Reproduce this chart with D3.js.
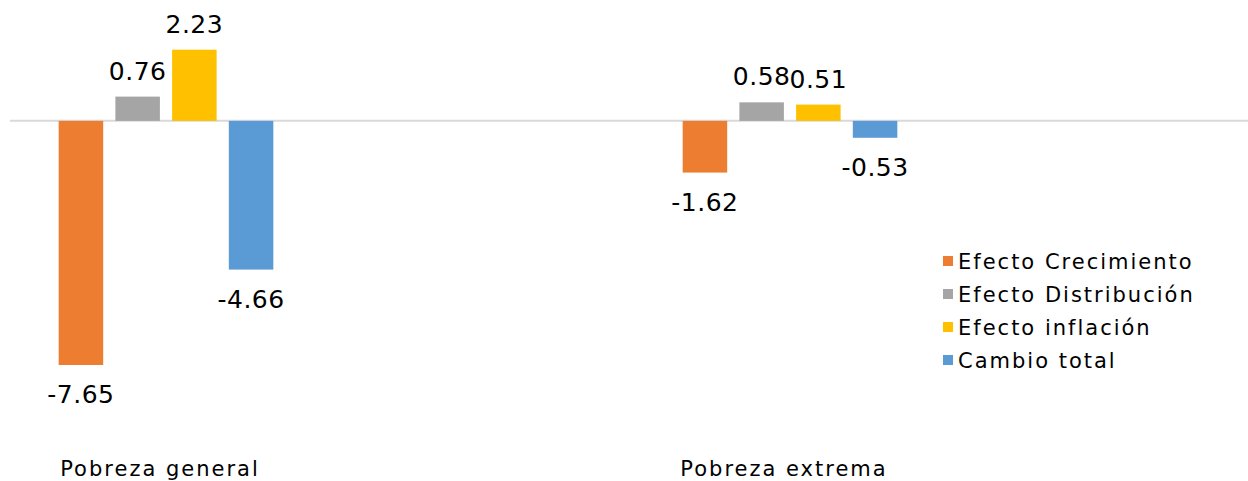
<!DOCTYPE html>
<html>
<head>
<meta charset="utf-8">
<script src="https://cdn.jsdelivr.net/npm/d3@7"></script>
<style>
  html, body { margin: 0; padding: 0; background: #fff; }
  svg { display: block; font-family: "DejaVu Sans", sans-serif; }
</style>
</head>
<body>
<svg id="chart" width="1248" height="481"></svg>
<script>
// 데이터
const categories = ["Pobreza general", "Pobreza extrema"];
const seriesNames = ["Efecto Crecimiento", "Efecto Distribución", "Efecto inflación", "Cambio total"];
const seriesColors = ["#ED7D31", "#A5A5A5", "#FFC000", "#5B9BD5"];
const crecimiento = [-7.65, -1.62];
const distribucion = [0.76, 0.58];
const inflacion = [2.23, 0.51];
const cambioTotal = [-4.66, -0.53];
const seriesValues = [crecimiento, distribucion, inflacion, cambioTotal];

const W = 1248, H = 481;
const svg = d3.select("#chart");

// 축 스케일
const x0 = d3.scaleBand().domain(categories).range([-146, 1102]).padding(0);
const x1 = d3.scaleBand().domain(seriesNames).range([0, 226]).paddingInner(0.215).paddingOuter(0.1);
const groupOffset = (x0.bandwidth() - 226) / 2;
const y = d3.scaleLinear().domain([-7.65, 2.23]).range([365, 49.7]);

// 0 기준선
svg.append("line")
  .attr("x1", 10).attr("x2", W)
  .attr("y1", y(0)).attr("y2", y(0))
  .attr("stroke", "#d9d9d9").attr("stroke-width", 2);

// 막대 + 값 라벨
categories.forEach((cat, ci) => {
  const g = svg.append("g").attr("transform", `translate(${x0(cat) + groupOffset},0)`);
  seriesNames.forEach((s, si) => {
    const v = seriesValues[si][ci];
    const bx = x1(s);
    g.append("rect")
      .attr("x", bx).attr("width", x1.bandwidth())
      .attr("y", Math.min(y(v), y(0)))
      .attr("height", Math.abs(y(v) - y(0)))
      .attr("fill", seriesColors[si]);
    g.append("text")
      .attr("x", bx + x1.bandwidth() / 2)
      .attr("y", v >= 0 ? y(v) - 17 : y(v) + 38)
      .attr("text-anchor", "middle")
      .attr("font-size", 25)
      .attr("letter-spacing", 0.5)
      .attr("fill", "#000")
      .text(v.toFixed(2));
  });
  // 카테고리 라벨
  svg.append("text")
    .attr("x", x0(cat) + x0.bandwidth() / 2 - 6)
    .attr("y", 476)
    .attr("text-anchor", "middle")
    .attr("font-size", 21)
    .attr("letter-spacing", 2)
    .attr("fill", "#000")
    .text(cat);
});

// 범례
const legend = svg.append("g").attr("transform", "translate(943,0)");
seriesNames.forEach((s, i) => {
  const cy = 261 + i * 33;
  legend.append("rect").attr("x", 0).attr("y", cy - 5).attr("width", 10).attr("height", 10).attr("fill", seriesColors[i]);
  legend.append("text").attr("x", 15).attr("y", cy + 7.5)
    .attr("font-size", 21).attr("letter-spacing", 2).attr("fill", "#000").text(s);
});
</script>
</body>
</html>
